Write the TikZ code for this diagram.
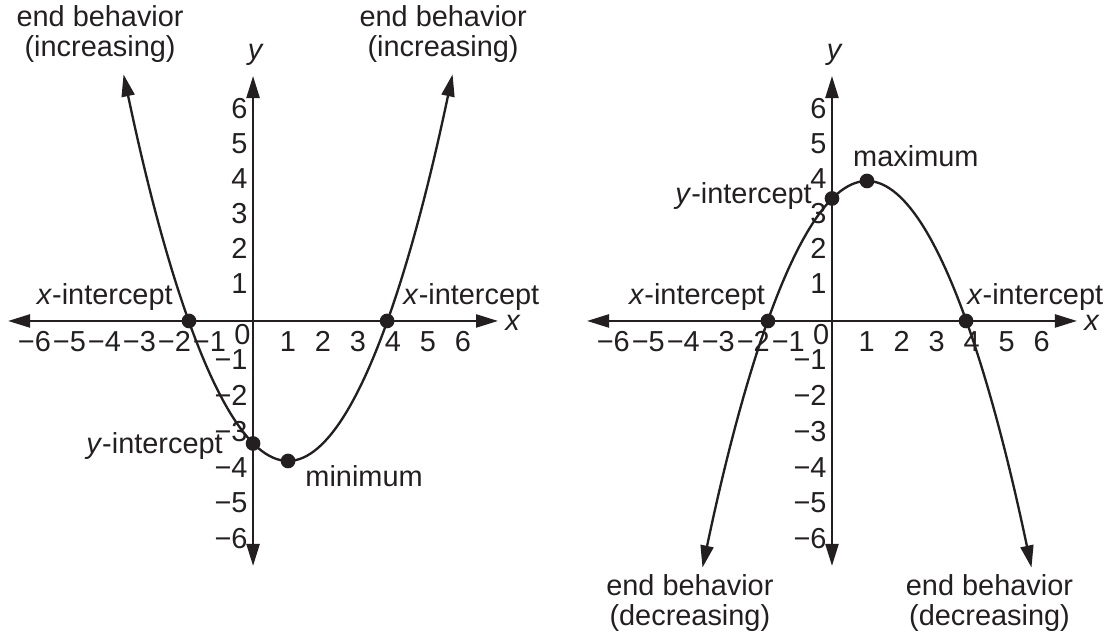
\documentclass[tikz,border=0pt]{standalone}
\usepackage{fontspec}
\setmainfont{Liberation Sans}
\usepackage{tikz}
\usetikzlibrary{arrows.meta,positioning}
\definecolor{GraphInk}{HTML}{231F20}

\begin{document}
\begin{tikzpicture}[
  axis/.style={line width=2pt, draw=GraphInk,
               {Triangle[length=6.3mm,width=3.7mm]}-{Triangle[length=6.3mm,width=3.7mm]}},
  curve/.style={line width=1.9pt, draw=GraphInk,
                {Triangle[length=6.3mm,width=3.7mm]}-{Triangle[length=6.3mm,width=3.7mm]}},
  point/.style={circle, fill=GraphInk, inner sep=0pt, minimum size=4.2mm},
  tick/.style={inner sep=0pt, text=GraphInk, font=\fontsize{23.5}{25}\selectfont},
  callout/.style={inner sep=0pt, text=GraphInk, align=center,
                  font=\fontsize{23.5}{25}\selectfont}
]
\useasboundingbox (-7.23,-9.06) rectangle (24.34,9.17);

% axes and tick labels of both graphs
\foreach \g/\dx in {l/0,r/16.54}{
  \begin{scope}[xshift=\dx cm]
    \draw[axis] (-7,0) -- (7,0);
    \draw[axis] (0,-7) -- (0,7);
    \node[tick, anchor=north east] (\g-0) at (-0.07,-0.1) {0};
    \foreach \k in {1,...,6}{
      \node[tick, anchor=north east] (\g-xp\k) at (\k+0.23,-0.3) {\k};
      \node[tick, anchor=north east] (\g-xn\k) at (-\k+0.23,-0.3) {−\k};
      \node[tick, anchor=east] (\g-yp\k) at (-0.15,\k+0.07) {\k};
      \node[tick, anchor=east] (\g-yn\k) at (-0.15,{-1.025*\k-0.08}) {−\k};
    }
    \node[tick, anchor=base west] (\g-xname) at (7.2,-0.26) {\itshape x};
    \node[tick, anchor=base] (\g-yname) at (0.06,7.46) {\itshape y};
  \end{scope}
}

% left graph: opens upward
\draw[curve] (-3.7,7.045) parabola bend (1,-4) (5.7,7.045);
\node[point] (l-xint1) at (-1.83,0) {};
\node[point] (l-xint2) at (3.83,0) {};
\node[point] (l-yint) at (0,-3.5) {};
\node[point] (l-min) at (1,-4) {};
\node[callout] (l-end1) at (-4.37,8.2) {end behavior\\(increasing)};
\node[callout] (l-end2) at (5.43,8.2) {end behavior\\(increasing)};
\node[callout, anchor=base east] (l-xlab1) at (-2.29,0.46) {\textit{x}-intercept};
\node[callout, anchor=base west] (l-xlab2) at (4.29,0.46) {\textit{x}-intercept};
\node[callout, anchor=base east] (l-ylab) at (-0.86,-3.8) {\textit{y}-intercept};
\node[callout, anchor=base west] (l-minlab) at (1.49,-4.74) {minimum};

% right graph: opens downward
\begin{scope}[xshift=16.54cm]
  \draw[curve] (-3.7,-7.045) parabola bend (1,4) (5.7,-7.045);
  \node[point] (r-xint1) at (-1.83,0) {};
  \node[point] (r-xint2) at (3.83,0) {};
  \node[point] (r-yint) at (0,3.5) {};
  \node[point] (r-max) at (1,4) {};
  \node[callout] (r-end1) at (-4.06,-8.06) {end behavior\\(decreasing)};
  \node[callout] (r-end2) at (4.5,-8.06) {end behavior\\(decreasing)};
  \node[callout, anchor=base east] (r-xlab1) at (-1.91,0.46) {\textit{x}-intercept};
  \node[callout, anchor=base west] (r-xlab2) at (3.86,0.46) {\textit{x}-intercept};
  \node[callout, anchor=base east] (r-ylab) at (-0.57,3.37) {\textit{y}-intercept};
  \node[callout, anchor=base west] (r-maxlab) at (0.6,4.4) {maximum};
\end{scope}
\end{tikzpicture}
\end{document}
